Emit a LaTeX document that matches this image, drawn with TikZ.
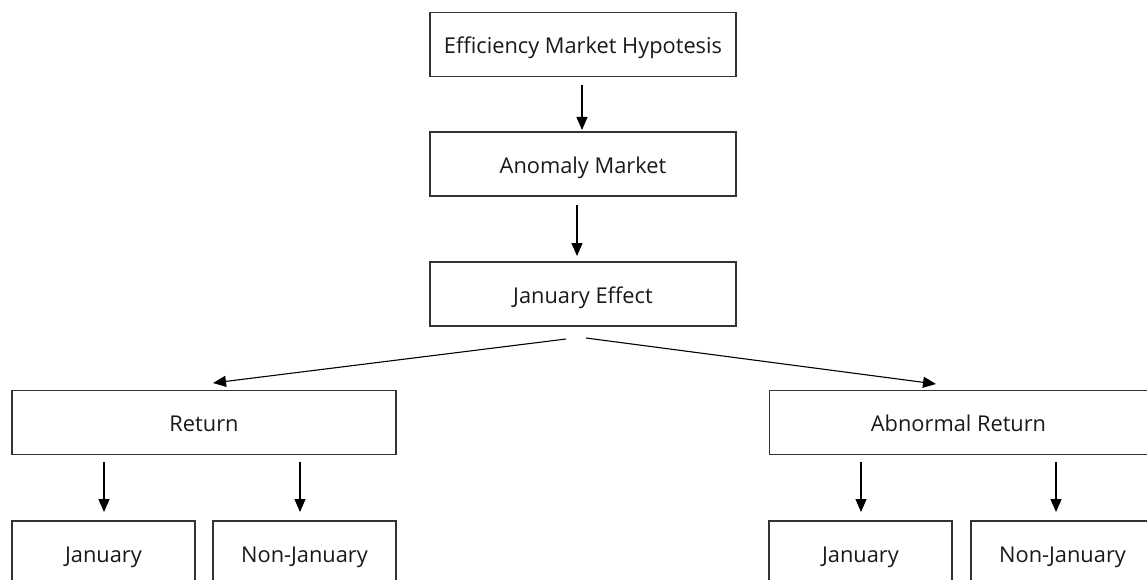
\documentclass[tikz,border=0pt]{standalone}
\usepackage{fontspec}
\setmainfont{Open Sans}
\usetikzlibrary{arrows.meta}
\begin{document}
\begin{tikzpicture}[x=1pt,y=-1pt,
  box/.style={draw=black!80,line width=1.2pt,minimum height=64pt,inner sep=0pt,text=black!90,text height=18pt,text depth=0pt,font=\fontsize{21.8}{24}\selectfont},
  arr/.style={line width=1.1pt,-{Triangle[length=13pt,width=11pt]}}]
\useasboundingbox (0,0) rectangle (1147,580);
\node[box,minimum width=306pt] (emh) at (583,44.5) {Efficiency Market Hypotesis};
\node[box,minimum width=306pt] (am) at (583,164) {Anomaly Market};
\node[box,minimum width=306pt] (je) at (583,294) {January Effect};
\node[box,minimum width=384pt] (ret) at (204,422.5) {Return};
\node[box,minimum width=378pt] (ar) at (958.5,422.5) {Abnormal Return};
\node[box,minimum width=183pt] (j1) at (103.5,553) {January};
\node[box,minimum width=183pt] (n1) at (304.5,553) {Non-January};
\node[box,minimum width=183pt] (j2) at (860.5,553) {January};
\node[box,minimum width=183pt] (n2) at (1062.5,553) {Non-January};
\coordinate (s1) at (582,85);  \coordinate (e1) at (582,130);
\coordinate (s2) at (577,205); \coordinate (e2) at (577,256);
\coordinate (s3) at (566,339); \coordinate (e3) at (213,383);
\coordinate (s4) at (586,338); \coordinate (e4) at (936,384);
\coordinate (s5) at (104,462); \coordinate (e5) at (104,512);
\coordinate (s6) at (300,462); \coordinate (e6) at (300,512);
\coordinate (s7) at (861,462); \coordinate (e7) at (861,512);
\coordinate (s8) at (1056,462); \coordinate (e8) at (1056,512);
\foreach \i in {1,...,8} \draw[arr] (s\i) -- (e\i);
\end{tikzpicture}
\end{document}
